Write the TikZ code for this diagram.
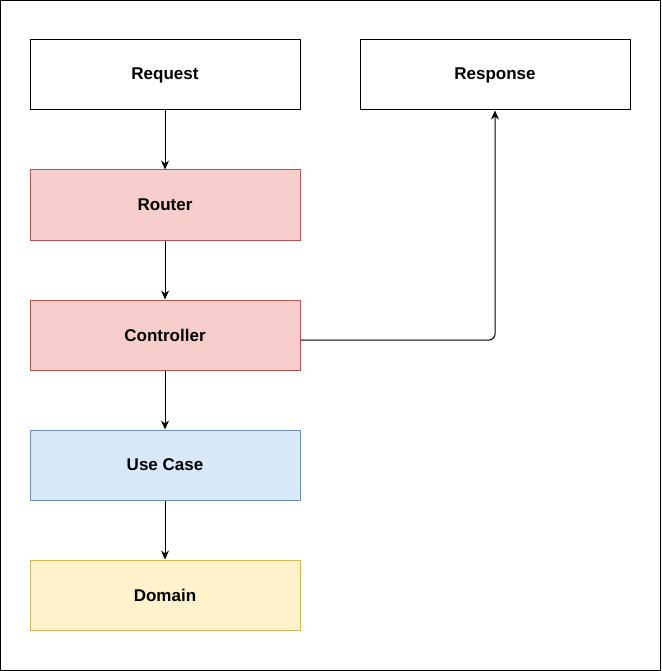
\documentclass[tikz,border=0pt]{standalone}
\usepackage{fontspec}
\setmainfont{Liberation Sans}
\usepackage{tikz}
\usetikzlibrary{arrows.meta}
\usepackage{xcolor}
\definecolor{redfill}{HTML}{F8CECC}
\definecolor{redline}{HTML}{B85450}
\definecolor{bluefill}{HTML}{DAE8FC}
\definecolor{blueline}{HTML}{6C8EBF}
\definecolor{yellowfill}{HTML}{FFF2CC}
\definecolor{yellowline}{HTML}{D6B656}

\begin{document}
\begin{tikzpicture}[x=1pt,y=-1pt,
  layer/.style={draw,line width=1pt,minimum width=270pt,minimum height=70pt,
    inner sep=0pt,font=\fontsize{17}{20}\selectfont\bfseries},
  flow/.style={-{Stealth[length=9pt,width=8pt]},line width=1pt}]
 \useasboundingbox (0,0) rectangle (661,671);
 \draw[line width=1pt] (0.5,0.5) rectangle (660.5,670.5);

 \node[layer] (request) at (165,75) {Request};
 \node[layer] (response) at (495,75) {Response};
 \node[layer,fill=redfill,draw=redline] (router) at (165,205) {Router};
 \node[layer,fill=redfill,draw=redline] (controller) at (165,335) {Controller};
 \node[layer,fill=bluefill,draw=blueline] (usecase) at (165,465) {Use Case};
 \node[layer,fill=yellowfill,draw=yellowline] (domain) at (165,595) {Domain};

 \draw[flow] (request) -- (router);
 \draw[flow] (router) -- (controller);
 \draw[flow] (controller) -- (usecase);
 \draw[flow] (usecase) -- (domain);
 \draw[flow,rounded corners=6pt] ([yshift=-5pt]controller.east) -| (response.south);
\end{tikzpicture}
\end{document}
